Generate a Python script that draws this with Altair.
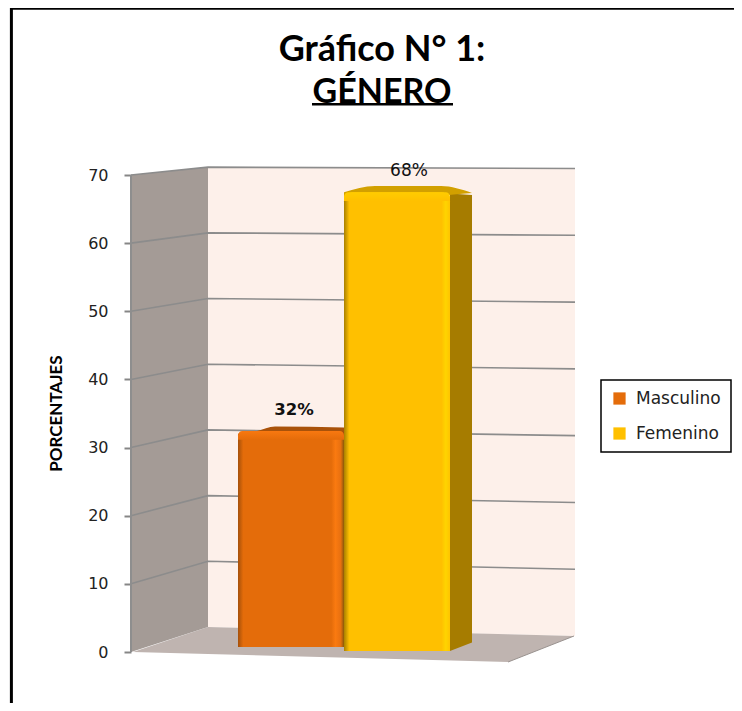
import altair as alt
import pandas as pd

# chart values
CATEGORIES = ["Masculino", "Femenino"]
VALUES = [32, 68]
COLORS = ["#E46C0A", "#FFC000"]
TICKS = [0, 10, 20, 30, 40, 50, 60, 70]

# oblique 3D frame, in axis units (x: depth/category units, y: percent)
WALL_X = [0, 77, 444]
BACK_BASE_L, BACK_STEP_L = 3.67, 0.964
BACK_BASE_R, BACK_STEP_R = 2.35, 0.98
FLOOR_X = [2, 77, 377, 443]
FLOOR_TOP = [0.0, 3.67, 2.6, 2.35]
FLOOR_BOTTOM = [0.0, -0.3, -1.47, 2.35]

# bars: front left, front right, base level, scale of the drawn front face
BAR_LEFT = [107, 213]
BAR_RIGHT = [213, 319]
BAR_BASE = [0.75, 0.15]
BAR_K = 0.99
SIDE_X = [319, 341]
SIDE_TOP_DROP = [0.2, 0.4]
SIDE_BOTTOM = [0.15, 1.4]

TOP_FACE_X = [[107, 126, 144, 213], [213, 244, 310, 341]]
TOP_FACE_RISE = [[-0.4, 0.0, 0.65, 0.5], [0.0, 0.9, 0.9, -0.1]]
TOP_FACE_DROP = [[1.5, 1.5, 1.5, 1.5], [1.5, 1.5, 0.5, 0.1]]
TOP_FACE_COLOR = ["#A9520A", "#D2A000"]

W, H = 444, 477
FONT = "DejaVu Sans"

x_scale = alt.Scale(domain=[0, W], nice=False, zero=False)
y_scale = alt.Scale(domain=[0, 70], nice=False, zero=False)
y_axis = alt.Axis(
    values=TICKS, domain=False, grid=False, tickColor="#868686", tickSize=7, tickWidth=2,
    labelPadding=16, labelFont=FONT, labelFontSize=16, labelColor="#222222",
    title="PORCENTAJES", titleFont="Lato", titleFontSize=17, titleFontWeight="bold",
    titleColor="#000000", titleX=-66, titleY=238, titleAlign="center", titleAngle=270)
X = alt.X("x:Q", scale=x_scale, axis=None)
Y = alt.Y("y:Q", scale=y_scale, axis=y_axis)

# walls
back_wall = pd.DataFrame({
    "x": WALL_X[1:],
    "y": [BACK_BASE_L + 70 * BACK_STEP_L, BACK_BASE_R + 70 * BACK_STEP_R],
    "y2": [BACK_BASE_L, BACK_BASE_R],
})
left_wall = pd.DataFrame({
    "x": WALL_X[:2],
    "y": [70, BACK_BASE_L + 70 * BACK_STEP_L],
    "y2": [0, BACK_BASE_L],
})
floor = pd.DataFrame({"x": FLOOR_X, "y": FLOOR_TOP, "y2": FLOOR_BOTTOM})

grid_rows = []
for t in TICKS:
    grid_rows.append({"t": t, "o": 0, "x": WALL_X[0], "y": t})
    grid_rows.append({"t": t, "o": 1, "x": WALL_X[1], "y": BACK_BASE_L + t * BACK_STEP_L})
    grid_rows.append({"t": t, "o": 2, "x": WALL_X[2], "y": BACK_BASE_R + t * BACK_STEP_R})
grid = pd.DataFrame(grid_rows)

l_back = alt.Chart(back_wall).mark_area(color="#FDF0EA", interpolate="linear").encode(X, Y, y2="y2:Q")
l_floor = alt.Chart(floor).mark_area(color="#BFB4B0", interpolate="linear").encode(X, Y, y2="y2:Q")
l_left = alt.Chart(left_wall).mark_area(color="#A49B96", interpolate="linear").encode(X, Y, y2="y2:Q")
l_grid = alt.Chart(grid[grid["t"] > 0]).mark_line(color="#8C8C8C", strokeWidth=1.6).encode(
    X, Y, detail="t:N", order="o:Q")

axis_df = pd.DataFrame({"x": [0], "y": [0], "y2": [70]})
l_axisline = alt.Chart(axis_df).mark_rule(color="#8E8E8E", strokeWidth=2).encode(X, Y, y2="y2:Q")

edge_df = pd.DataFrame({"x": FLOOR_X[2:], "y": [FLOOR_BOTTOM[2], FLOOR_BOTTOM[3]]})
l_edge = alt.Chart(edge_df).mark_line(color="#9A9390", strokeWidth=1).encode(X, Y)

# bars
bars = pd.DataFrame({
    "genero": CATEGORIES,
    "valor": VALUES,
    "x": BAR_LEFT,
    "x2": BAR_RIGHT,
    "base": BAR_BASE,
})
bars["y"] = bars["base"] + bars["valor"] * BAR_K
bars["band"] = bars["y"] - 1.3
color_enc = alt.Color("genero:N", scale=alt.Scale(domain=CATEGORIES, range=COLORS), legend=alt.Legend(
    title=None, orient="none", legendX=470, legendY=205, fillColor="white", strokeColor="black",
    padding=10, symbolType="square", symbolSize=150, symbolStrokeWidth=0,
    labelFont=FONT, labelFontSize=17, labelColor="#222222", rowPadding=17, labelOffset=8,
    labelLimit=200))

GRADS = [
    alt.Gradient(gradient="linear", x1=0, x2=1, y1=0, y2=0, stops=[
        alt.GradientStop(color="#A5500A", offset=0), alt.GradientStop(color="#E46C0A", offset=0.05),
        alt.GradientStop(color="#E46C0A", offset=0.88), alt.GradientStop(color="#FA7A10", offset=0.92),
        alt.GradientStop(color="#E87010", offset=0.97), alt.GradientStop(color="#8A5A08", offset=1)]),
    alt.Gradient(gradient="linear", x1=0, x2=1, y1=0, y2=0, stops=[
        alt.GradientStop(color="#A98000", offset=0), alt.GradientStop(color="#FFC000", offset=0.05),
        alt.GradientStop(color="#FFC000", offset=0.92), alt.GradientStop(color="#FFD400", offset=0.96),
        alt.GradientStop(color="#FFC400", offset=1)]),
]
HIGHLIGHT = ["#F87810", "#FFCC00"]
RADIUS = 9


def top_face(i):
    df = pd.DataFrame({"x": TOP_FACE_X[i], "y": [bars["y"][i] + r for r in TOP_FACE_RISE[i]],
                       "y2": [bars["y"][i] - d for d in TOP_FACE_DROP[i]]})
    return alt.Chart(df).mark_area(color=TOP_FACE_COLOR[i], interpolate="monotone").encode(X, Y, y2="y2:Q")


def front(i):
    df = bars.iloc[[i]]
    flat = alt.Chart(df).mark_bar(cornerRadiusTopLeft=RADIUS, cornerRadiusTopRight=RADIUS).encode(
        X, x2="x2:Q", y=Y, y2="base:Q", color=color_enc)
    grad = alt.Chart(df).mark_bar(cornerRadiusTopLeft=RADIUS, cornerRadiusTopRight=RADIUS, color=GRADS[i]).encode(
        X, x2="x2:Q", y=Y, y2="base:Q")
    shine = alt.Gradient(gradient="linear", x1=0, x2=0, y1=0, y2=1, stops=[
        alt.GradientStop(color=HIGHLIGHT[i], offset=0), alt.GradientStop(color=COLORS[i], offset=1)])
    band = alt.Chart(df).mark_bar(cornerRadiusTopLeft=RADIUS, cornerRadiusTopRight=RADIUS, color=shine).encode(
        X, x2="x2:Q", y=Y, y2="band:Q")
    return [flat, grad, band]


side_df = pd.DataFrame({
    "x": SIDE_X,
    "y": [bars["y"][1] - d for d in SIDE_TOP_DROP],
    "y2": SIDE_BOTTOM,
})
l_side = alt.Chart(side_df).mark_area(color="#A67C00", interpolate="linear").encode(X, Y, y2="y2:Q")

LABEL_X = [163, 278]
LABEL_Y = [35.5, 70.6]
LABEL_TEXT = [f"{v}%" for v in VALUES]
l_lab32 = alt.Chart(pd.DataFrame({"x": [LABEL_X[0]], "y": [LABEL_Y[0]], "t": [LABEL_TEXT[0]]})).mark_text(
    font=FONT, fontSize=16.5, fontWeight="bold", color="#111111").encode(X, Y, text="t:N")
l_lab68 = alt.Chart(pd.DataFrame({"x": [LABEL_X[1]], "y": [LABEL_Y[1]], "t": [LABEL_TEXT[1]]})).mark_text(
    font=FONT, fontSize=17, color="#111111").encode(X, Y, text="t:N")

# title
TITLE_LINES = ["Gráfico N° 1:", "GÉNERO"]
l_title1 = alt.Chart(pd.DataFrame({"x": [251], "y": [88.3], "t": [TITLE_LINES[0]]})).mark_text(
    font="Lato", fontSize=36, fontWeight="bold", color="black").encode(X, Y, text="t:N")
l_title2 = alt.Chart(pd.DataFrame({"x": [251], "y": [82.1], "t": [TITLE_LINES[1]]})).mark_text(
    font="Lato", fontSize=34, fontWeight="bold", color="black").encode(X, Y, text="t:N")

# outer frame and title underline (expressed in the same axes)
frame_top = pd.DataFrame({"x": [-121], "x2": [603], "y": [94.4]})
frame_left = pd.DataFrame({"x": [-119.6], "y": [94.6], "y2": [-7.5]})
l_ft = alt.Chart(frame_top).mark_rule(color="black", strokeWidth=2.2).encode(X, x2="x2:Q", y=Y)
l_fl = alt.Chart(frame_left).mark_rule(color="black", strokeWidth=3).encode(X, Y, y2="y2:Q")
ul = pd.DataFrame({"x": [181], "x2": [322], "y": [80.4]})
l_ul = alt.Chart(ul).mark_rule(color="black", strokeWidth=2.5).encode(X, x2="x2:Q", y=Y)

layers = [l_back, l_floor, l_left, l_grid, l_axisline, l_edge, top_face(0)] + front(0) + \
         [l_side, top_face(1)] + front(1) + [l_lab32, l_lab68, l_title1, l_title2, l_ft, l_fl, l_ul]

chart = alt.layer(*layers).resolve_scale(color="shared").properties(
    width=W, height=H,
    padding={"left": 123, "top": 167, "right": 159, "bottom": 51},
    autosize=alt.AutoSizeParams(type="none"),
).configure_view(stroke=None).configure_legend(strokeWidth=1.5)

chart.save("out.html", embed_options={"renderer": "svg", "actions": False})
